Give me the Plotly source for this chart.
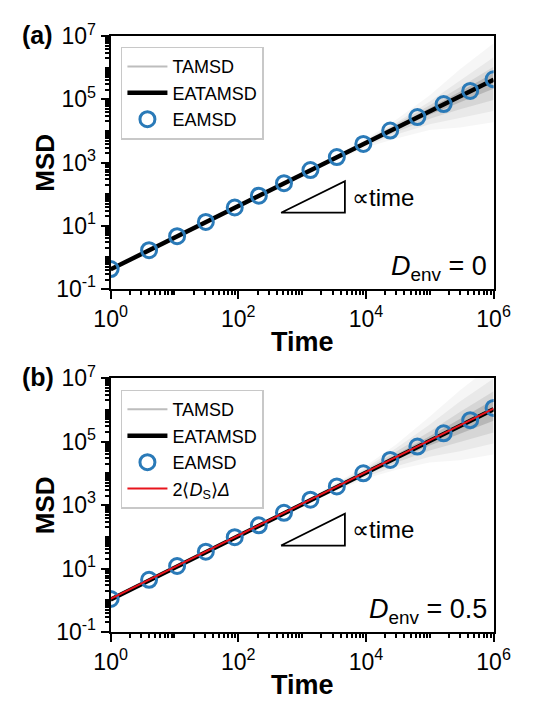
import plotly.graph_objects as go

# ---------------- data ----------------
# Lag times of the ensemble-averaged MSD points
eamsd_t = [1, 4, 11, 31, 88, 210, 520, 1350, 3500, 9100, 24000, 64000, 165000, 430000, 1000000]
eamsd_a = [0.43, 1.7, 4.7, 13.3, 38, 90, 224, 580, 1500, 3900, 10300, 27500, 71000, 185000, 430000]
eamsd_b = [1.1, 4.4, 12, 34, 97, 230, 570, 1480, 3850, 10000, 26500, 70000, 182000, 475000, 1150000]

# Ensemble-averaged time-averaged MSD
eatamsd_t = [1, 10, 100, 1000, 10000, 100000, 1000000]
eatamsd_a = [0.42, 4.2, 42, 420, 4200, 42000, 420000]
eatamsd_b = [1.05, 10.5, 105, 1050, 10500, 105000, 1050000]

# Theory line 2<D_s>Δ for panel (b)
theory_t = [1, 1000000]
theory_b = [1.1, 1100000]

# Spread of single-trajectory TAMSDs: nested envelopes of the cloud,
# from the outermost (faint) to the innermost (dense) level
fan_t = [1, 10, 100, 1000, 10000, 30000, 100000, 300000, 1000000]
fan_a = [
    ([0.47, 4.7, 47, 457, 5600, 23000, 135000, 910000, 6000000],
     [0.40, 4.0, 40, 390, 3000, 5800, 10700, 13000, 19000]),
    ([0.46, 4.6, 46, 450, 5160, 18600, 85700, 407000, 2150000],
     [0.41, 4.1, 41, 401, 3410, 7760, 16300, 25700, 43000]),
    ([0.45, 4.5, 45, 445, 4820, 16200, 65000, 245000, 1080000],
     [0.41, 4.1, 41, 410, 3660, 9330, 24200, 49000, 96200]),
    ([0.44, 4.4, 44, 440, 4600, 14500, 52800, 178000, 681000],
     [0.42, 4.2, 42, 420, 3920, 11000, 32600, 81300, 215000]),
]
fan_b = [
    ([1.15, 11.5, 118, 1230, 17400, 83000, 620000, 4200000, 28000000],
     [1.0, 10.0, 98, 980, 6900, 13000, 22000, 26000, 39000]),
    ([1.13, 11.3, 115, 1200, 15100, 63000, 347000, 1860000, 9800000],
     [1.01, 10.1, 100, 1000, 7760, 16600, 33100, 50100, 87100]),
    ([1.12, 11.2, 113, 1160, 13200, 47900, 209000, 871000, 3890000],
     [1.02, 10.2, 102, 1035, 8910, 21900, 52500, 100000, 195000]),
    ([1.1, 11.0, 110, 1130, 12000, 39800, 148000, 525000, 2090000],
     [1.05, 10.5, 105, 1070, 9770, 26900, 75900, 182000, 457000]),
]
fan_alpha = [0.035, 0.05, 0.08, 0.14]

# Slope-one guide triangles
tri_t = [468, 4680, 4680, 468]
tri_a = [26, 26, 260, 26]
tri_b = [53, 53, 530, 53]

# Axis ticks
x_major = [1, 100, 10000, 1000000]
x_major_text = ["10<sup>0</sup>", "10<sup>2</sup>", "10<sup>4</sup>", "10<sup>6</sup>"]
y_major = [0.1, 10, 1000, 100000, 10000000]
y_major_text = ["10<sup>-1</sup>", "10<sup>1</sup>", "10<sup>3</sup>", "10<sup>5</sup>", "10<sup>7</sup>"]

x_minor = [m * 10 ** e for e in range(0, 6) for m in range(2, 11) if not (m == 10 and e % 2 == 1)]
y_minor = [m * 10 ** e for e in range(-1, 7) for m in range(2, 11) if not (m == 10 and e % 2 == 0)]

# ---------------- styling ----------------
FONT = "Liberation Sans"
BLUE = "#2a7ab8"
W, H = 534, 713
L, R = 100, 509
panels = [(20, 284), (377, 642)]


def py(y_px):
    return (H - y_px) / H


fig = go.Figure()

for i, (fan, eam, eatam, tri) in enumerate([(fan_a, eamsd_a, eatamsd_a, tri_a),
                                             (fan_b, eamsd_b, eatamsd_b, tri_b)]):
    xa = "x" if i == 0 else "x2"
    ya = "y" if i == 0 else "y2"
    lg = "legend" if i == 0 else "legend2"
    for (hi, lo), a in zip(fan, fan_alpha):
        fig.add_trace(go.Scatter(
            x=fan_t + fan_t[::-1], y=hi + lo[::-1],
            fill="toself", fillcolor=f"rgba(0,0,0,{a})", line=dict(width=0), mode="lines",
            hoverinfo="skip", showlegend=False, xaxis=xa, yaxis=ya))
    fig.add_trace(go.Scatter(
        x=eatamsd_t, y=eatam, mode="lines", name="TAMSD",
        line=dict(color="#bdbdbd", width=2), xaxis=xa, yaxis=ya, legend=lg))
    fig.add_trace(go.Scatter(
        x=eatamsd_t, y=eatam, mode="lines", name="EATAMSD",
        line=dict(color="black", width=4.5), xaxis=xa, yaxis=ya, legend=lg))
    fig.add_trace(go.Scatter(
        x=eamsd_t, y=eam, mode="markers", name="EAMSD",
        marker=dict(symbol="circle-open", size=15, color=BLUE, line=dict(width=3, color=BLUE)),
        xaxis=xa, yaxis=ya, legend=lg))
    if i == 1:
        fig.add_trace(go.Scatter(
            x=theory_t, y=theory_b, mode="lines",
            name="2⟨<i>D</i><sub>S</sub>⟩<i>Δ</i>",
            line=dict(color="#e8141c", width=2), xaxis=xa, yaxis=ya, legend=lg))
    fig.add_trace(go.Scatter(
        x=tri_t, y=tri, mode="lines", line=dict(color="black", width=1.8),
        hoverinfo="skip", showlegend=False, xaxis=xa, yaxis=ya))

axis_common = dict(
    type="log", showgrid=False, zeroline=False, showline=True, linecolor="black",
    linewidth=2, mirror=True, ticks="outside", ticklen=8, tickwidth=2, tickcolor="black",
    tickmode="array", tickfont=dict(family=FONT, size=23, color="black"),
)

for i, (top, bot) in enumerate(panels):
    sfx = "" if i == 0 else "2"
    fig.update_layout(**{
        "xaxis" + sfx: dict(axis_common, range=[0, 6], domain=[L / W, R / W],
                            anchor="y" + sfx, tickvals=x_major, ticktext=x_major_text,
                            minor=dict(tickvals=x_minor, ticks="outside", ticklen=4,
                                       tickwidth=1.5, tickcolor="black")),
        "yaxis" + sfx: dict(axis_common, range=[-1, 7], domain=[py(bot), py(top)],
                            anchor="x" + sfx, tickvals=y_major, ticktext=y_major_text,
                            minor=dict(tickvals=y_minor, ticks="outside", ticklen=4,
                                       tickwidth=1.5, tickcolor="black")),
    })

legend_common = dict(
    x=111 / W, xanchor="left", yanchor="top", bgcolor="white",
    bordercolor="#c8c8c8", borderwidth=1.5,
    font=dict(family=FONT, size=18, color="black"), tracegroupgap=0, itemwidth=40,
)
fig.update_layout(
    legend=dict(legend_common, y=py(31)),
    legend2=dict(legend_common, y=py(389)),
)


def label(x_px, y_px, text, size, xanchor="center", **kw):
    return dict(x=x_px / W, y=py(y_px), xref="paper", yref="paper", text=text,
                xanchor=xanchor, yanchor="middle", showarrow=False,
                font=dict(family=FONT, size=size, color="black"), **kw)


annotations = []
for i, (top, bot) in enumerate(panels):
    mid = (top + bot) / 2
    annotations.append(label(30, mid, "<b>MSD</b>", 26, textangle=-90))
    annotations.append(label(305, bot + 55, "<b>Time</b>", 27))
    annotations.append(label(3, top - 1, "<b>(a)</b>" if i == 0 else "<b>(b)</b>", 25, xanchor="left"))
    annotations.append(label(504, bot - 22, "<i>D</i><sub>env</sub> = " + ("0" if i == 0 else "0.5"),
                             27, xanchor="right"))

annotations.append(dict(x=3.75, y=1.91, xref="x", yref="y", text="∝time", xanchor="left",
                        yanchor="middle", showarrow=False,
                        font=dict(family=FONT, size=24, color="black")))
annotations.append(dict(x=3.75, y=2.23, xref="x2", yref="y2", text="∝time", xanchor="left",
                        yanchor="middle", showarrow=False,
                        font=dict(family=FONT, size=24, color="black")))

fig.update_layout(
    width=W, height=H, margin=dict(l=0, r=0, t=0, b=0),
    paper_bgcolor="white", plot_bgcolor="white",
    annotations=annotations,
)

fig.write_html("out.html")
